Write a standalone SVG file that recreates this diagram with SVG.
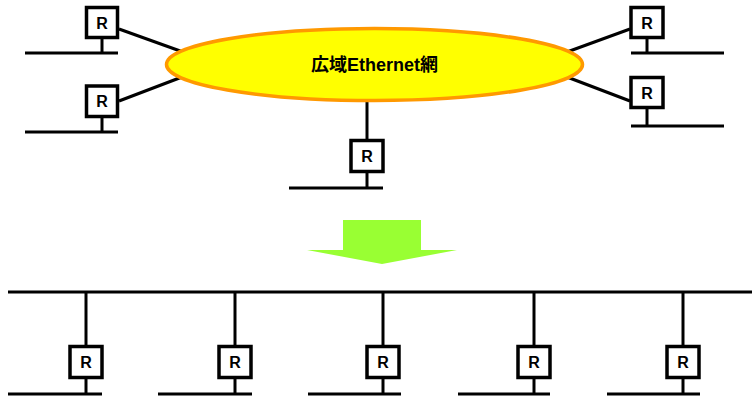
<svg xmlns="http://www.w3.org/2000/svg" width="752" height="397" viewBox="0 0 752 397">
<style>
.ln{stroke:#000;stroke-width:3;fill:none}
.box{fill:#fff;stroke:#000;stroke-width:3.5}
.rt{font-family:"Liberation Sans",Arial,sans-serif;font-weight:bold;font-size:16px;text-anchor:middle;fill:#000}
.net{font-family:"Liberation Sans","Noto Sans CJK JP",sans-serif;font-weight:bold;font-size:18px;text-anchor:middle;fill:#000}
</style>
<rect width="752" height="397" fill="#fff"/>
<g id="connectors">
<line class="ln" x1="119" y1="29" x2="183" y2="52"/>
<line class="ln" x1="119" y1="101" x2="182" y2="77"/>
<line class="ln" x1="567" y1="52" x2="630" y2="29"/>
<line class="ln" x1="567" y1="77" x2="630" y2="101"/>
<line class="ln" x1="367" y1="102" x2="367" y2="140"/>
<line class="ln" x1="102" y1="39" x2="102" y2="53"/>
<line class="ln" x1="25" y1="53" x2="118" y2="53"/>
<line class="ln" x1="102" y1="118" x2="102" y2="132"/>
<line class="ln" x1="25" y1="132" x2="118" y2="132"/>
<line class="ln" x1="647" y1="39" x2="647" y2="53"/>
<line class="ln" x1="631" y1="53" x2="724" y2="53"/>
<line class="ln" x1="647" y1="109" x2="647" y2="126"/>
<line class="ln" x1="631" y1="126" x2="724" y2="126"/>
<line class="ln" x1="367" y1="173" x2="367" y2="188"/>
<line class="ln" x1="289" y1="188" x2="383" y2="188"/>
<line class="ln" x1="8" y1="292" x2="752" y2="292"/>
<line class="ln" x1="86" y1="292" x2="86" y2="345"/>
<line class="ln" x1="235" y1="292" x2="235" y2="345"/>
<line class="ln" x1="383" y1="292" x2="383" y2="345"/>
<line class="ln" x1="534" y1="292" x2="534" y2="345"/>
<line class="ln" x1="683" y1="292" x2="683" y2="345"/>
<line class="ln" x1="86" y1="379" x2="86" y2="394"/>
<line class="ln" x1="235" y1="379" x2="235" y2="394"/>
<line class="ln" x1="383" y1="379" x2="383" y2="394"/>
<line class="ln" x1="534" y1="379" x2="534" y2="394"/>
<line class="ln" x1="683" y1="379" x2="683" y2="394"/>
<line class="ln" x1="8" y1="394" x2="102" y2="394"/>
<line class="ln" x1="158" y1="394" x2="252" y2="394"/>
<line class="ln" x1="308" y1="394" x2="401" y2="394"/>
<line class="ln" x1="458" y1="394" x2="550" y2="394"/>
<line class="ln" x1="607" y1="394" x2="700" y2="394"/>
</g>
<g id="wan">
<ellipse cx="374.5" cy="64.5" rx="208" ry="36" fill="#ffff00" stroke="#ff9900" stroke-width="3.5"/>
<text class="net" x="374.5" y="71">広域Ethernet網</text>
</g>
<g id="r1"><rect class="box" x="86.5" y="7.5" width="31" height="30"/><text class="rt" x="102" y="28.5">R</text></g>
<g id="r2"><rect class="box" x="86.5" y="86" width="31" height="30.5"/><text class="rt" x="102" y="107">R</text></g>
<g id="r3"><rect class="box" x="631" y="7.5" width="32" height="30"/><text class="rt" x="647" y="28.5">R</text></g>
<g id="r4"><rect class="box" x="631" y="77.5" width="32" height="30"/><text class="rt" x="647" y="98.5">R</text></g>
<g id="r5"><rect class="box" x="351" y="140.5" width="32" height="31"/><text class="rt" x="367" y="162">R</text></g>
<g id="arrow"><polygon points="343,220 421,220 421,250 457,250 382,264 307,250 343,250" fill="#99ff33"/></g>
<g id="b1"><rect class="box" x="70" y="346.5" width="32" height="31"/><text class="rt" x="86" y="368">R</text></g>
<g id="b2"><rect class="box" x="219" y="346.5" width="32" height="31"/><text class="rt" x="235" y="368">R</text></g>
<g id="b3"><rect class="box" x="367" y="346.5" width="32" height="31"/><text class="rt" x="383" y="368">R</text></g>
<g id="b4"><rect class="box" x="518" y="346.5" width="32" height="31"/><text class="rt" x="534" y="368">R</text></g>
<g id="b5"><rect class="box" x="667" y="346.5" width="32" height="31"/><text class="rt" x="683" y="368">R</text></g>
</svg>
